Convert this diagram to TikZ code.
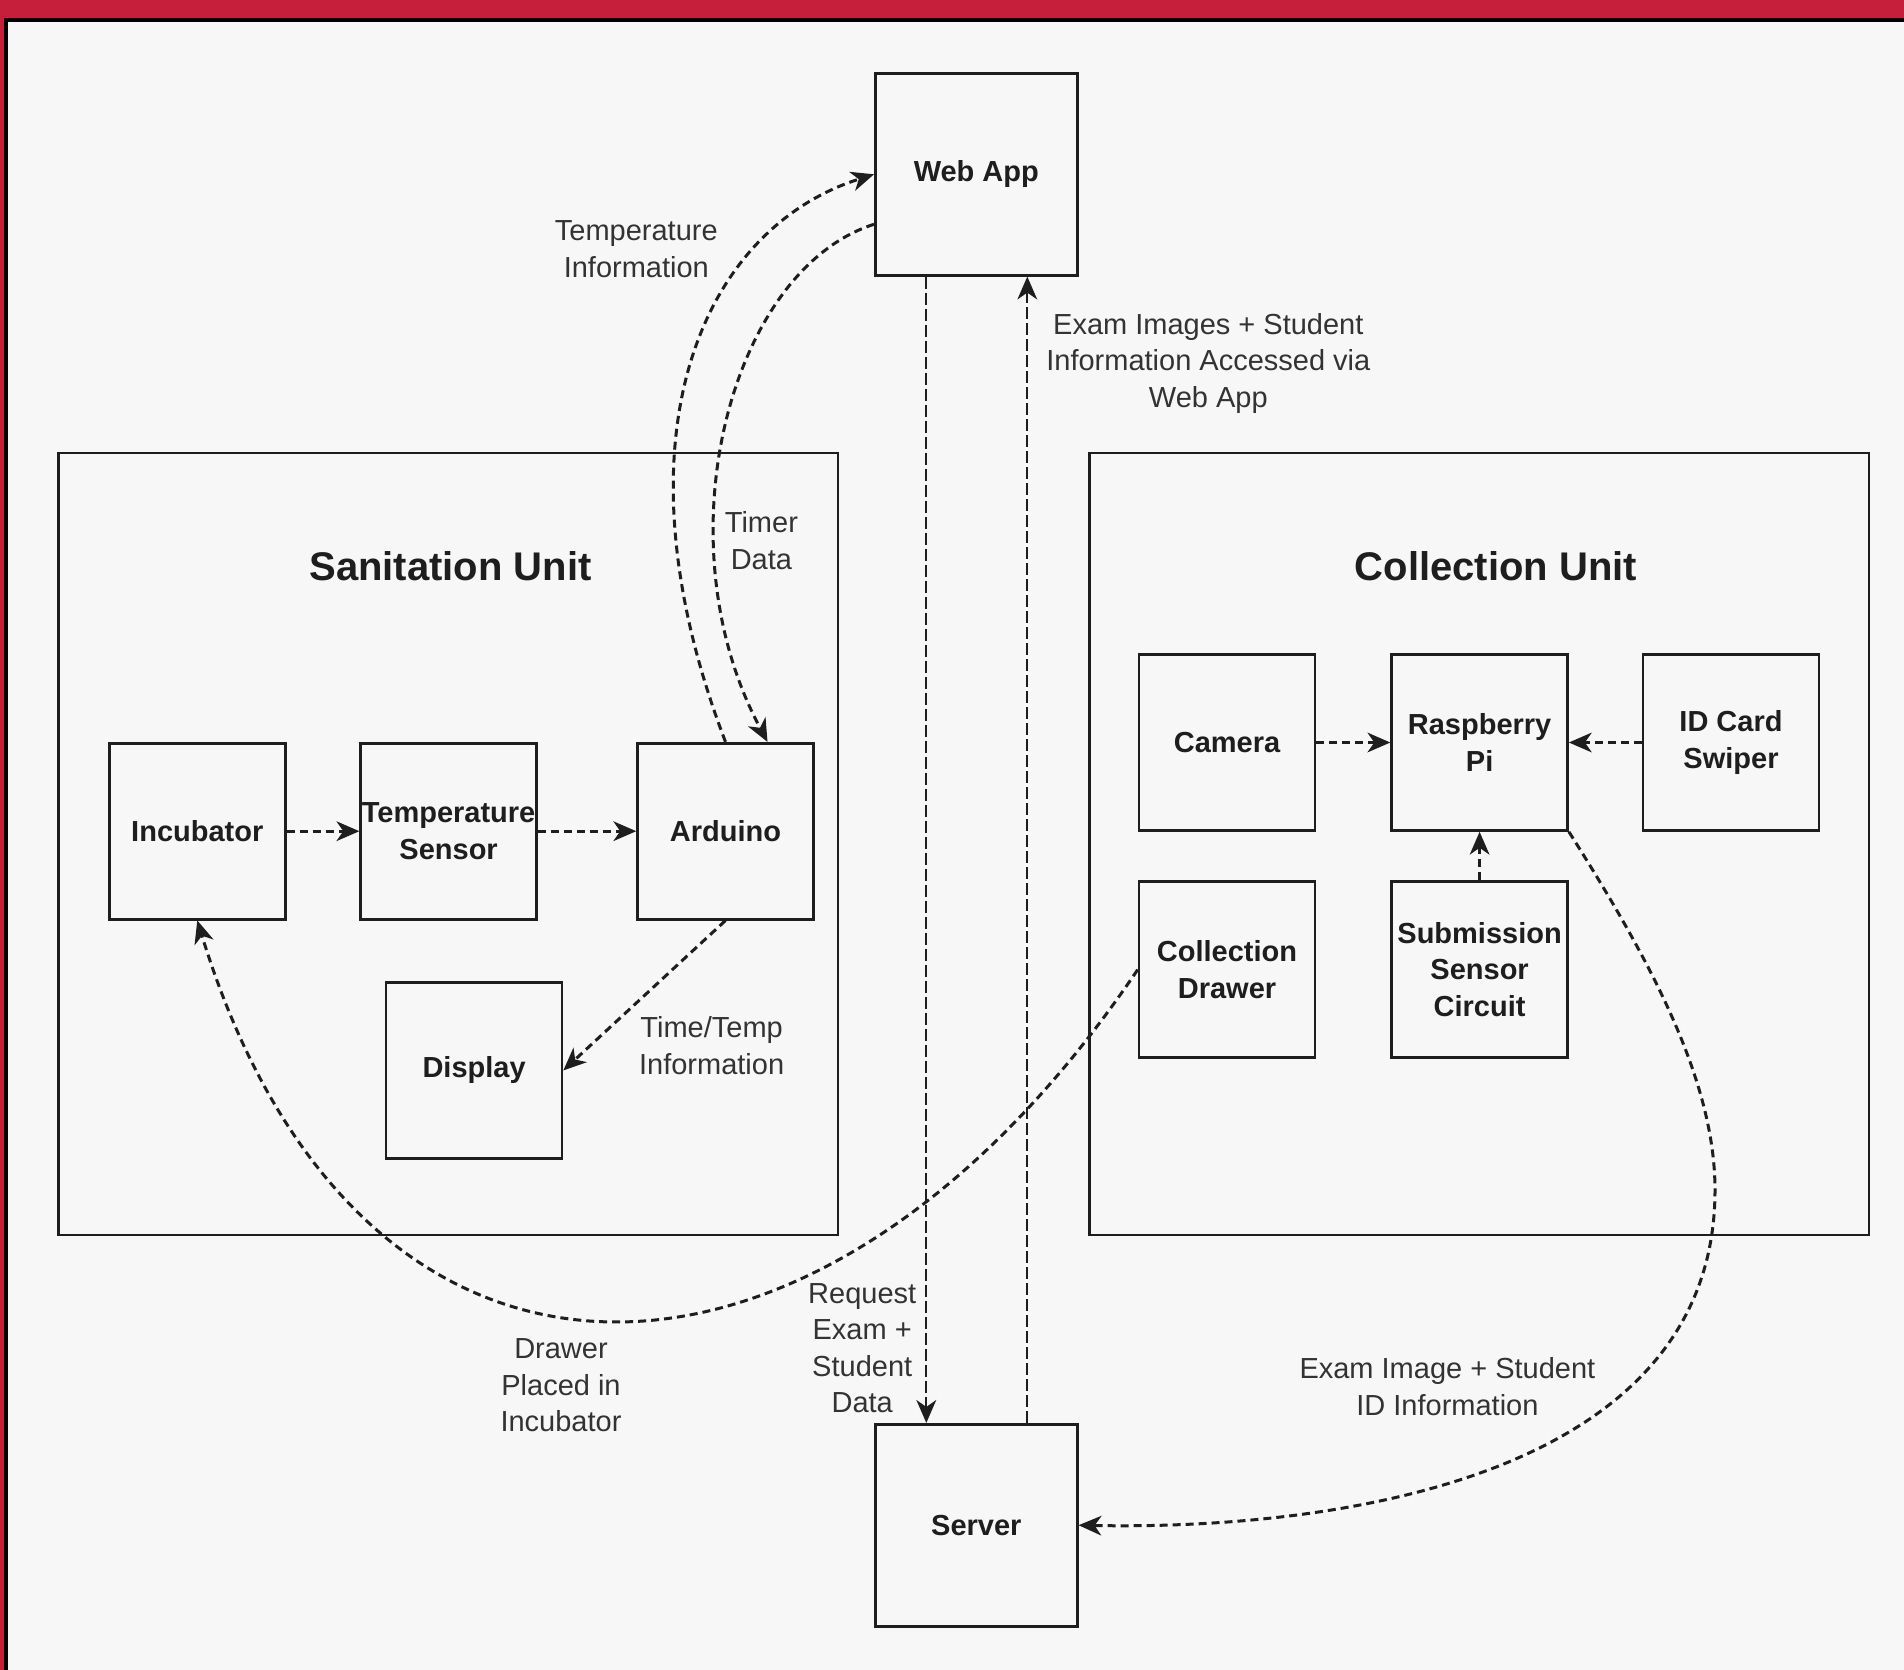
\documentclass[tikz,border=0pt]{standalone}
\usepackage{fontspec}
\setmainfont{Liberation Sans}
\usetikzlibrary{arrows.meta,calc}
\definecolor{framered}{HTML}{C61F3C}
\definecolor{bgc}{HTML}{F7F7F7}
\definecolor{ink}{HTML}{1E1E1E}
\definecolor{lbl}{HTML}{333333}
\begin{document}
\begin{tikzpicture}[x=1pt,y=-1pt,
  box/.style={draw=ink, line width=2.6pt, minimum width=176pt, minimum height=176pt, inner sep=0pt, align=center, font=\fontsize{29}{36.5}\selectfont\bfseries, text=ink},
  bigbox/.style={box, minimum width=202pt, minimum height=202pt},
  container/.style={draw=ink, line width=2.6pt, inner sep=0pt, minimum width=779.6pt, minimum height=782pt},
  unittitle/.style={font=\fontsize{40}{48}\selectfont\bfseries, text=ink},
  lab/.style={font=\fontsize{29}{36.5}\selectfont, text=lbl, align=center},
  tip/.style={-{Stealth[length=23pt,width=20pt,inset=7pt,line width=0pt]}},
  flow/.style={draw=ink, line width=3pt, dash pattern=on 8pt off 5pt, tip},
  vflow/.style={draw=ink, line width=2pt, dash pattern=on 12pt off 4pt, tip}
]
\useasboundingbox (0,0) rectangle (1904,1670);
\fill[bgc] (0,0) rectangle (1904,1670);
\fill[framered] (0,0) rectangle (1904,18);
\fill[framered] (0,0) rectangle (4,1670);
\fill[black] (4,18) rectangle (1904,22);
\fill[black] (4,18) rectangle (8,1670);

% containers
\node[container] (san) at (448.1,843.9) {};
\node[container] (col) at (1479,843.9) {};
\node[unittitle] (santitle) at (450.5,566) {Sanitation Unit};
\node[unittitle] (coltitle) at (1496,566) {Collection Unit};

% boxes
\node[bigbox] (web) at (976.3,174.3) {Web App};
\node[bigbox] (srv) at (976.3,1525.2) {Server};
\node[box] (inc) at (197.3,831.2) {Incubator};
\node[box] (ts) at (448.6,831.2) {Temperature\\Sensor};
\node[box] (ard) at (725.5,831.2) {Arduino};
\node[box] (disp) at (474.1,1070.4) {Display};
\node[box] (cam) at (1227,742.5) {Camera};
\node[box] (rpi) at (1479.6,742.5) {Raspberry\\Pi};
\node[box] (idc) at (1731,742.5) {ID Card\\Swiper};
\node[box] (cd) at (1227,969.6) {Collection\\Drawer};
\node[box] (sub) at (1479.6,969.6) {Submission\\Sensor\\Circuit};

% connectors
\draw[flow] (inc.east) -- (ts.west);
\draw[flow] (ts.east) -- (ard.west);
\draw[flow] (ard.south) -- (disp.east);
\draw[flow] (ard.north) .. controls (610,440) and (700,230) .. (web.west);
\draw[flow] ($(web.west)+(0,50)$) .. controls (730,270) and (660,540) .. ($(ard.north)+(42,0)$);
\draw[vflow] ($(web.south)+(-50,0)$) -- ($(srv.north)+(-50,0)$);
\draw[vflow] ($(srv.north)+(51,0)$) -- ($(web.south)+(51,0)$);
\draw[flow] (cam.east) -- (rpi.west);
\draw[flow] (idc.west) -- (rpi.east);
\draw[flow] (sub.north) -- (rpi.south);
\draw[flow] (rpi.south east) .. controls (1650,960) and (1715,1080) .. (1715,1190) .. controls (1715,1480) and (1330,1530) .. (srv.east);
\draw[flow] (cd.west) .. controls (820,1440) and (360,1450) .. (inc.south);

% labels
\node[lab] (l1) at (636.3,249) {Temperature\\Information};
\node[lab] (l2) at (761.4,540.4) {Timer\\Data};
\node[lab] (l3) at (711.6,1045.5) {Time/Temp\\Information};
\node[lab] (l4) at (1208.3,363.1) {Exam Images + Student\\Information Accessed via\\Web App};
\node[lab] (l5) at (862.2,1348) {Request\\Exam +\\Student\\Data};
\node[lab] (l6) at (561,1385.5) {Drawer\\Placed in\\Incubator};
\node[lab] (l7) at (1447.4,1386.8) {Exam Image + Student\\ID Information};
\end{tikzpicture}
\end{document}
